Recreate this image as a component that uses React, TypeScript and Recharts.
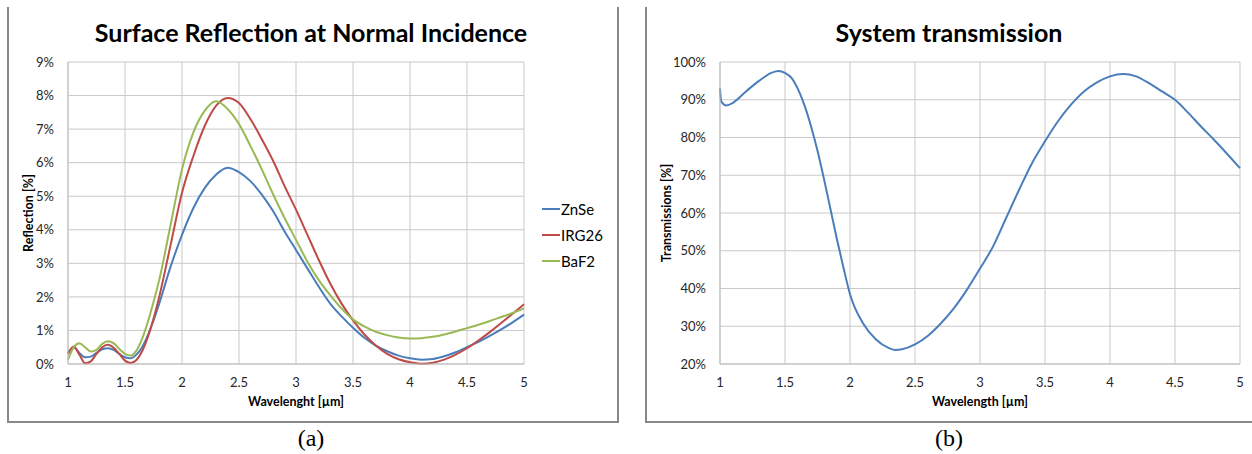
import { LineChart, Line, XAxis, YAxis, CartesianGrid } from 'recharts'

// reflection curves, wavelength in µm, reflection in %
const wavelengths = [
  1.0, 1.05, 1.1, 1.15, 1.2, 1.25, 1.3, 1.35, 1.4, 1.45, 1.5, 1.55, 1.6, 1.65, 1.7, 1.75, 1.8, 1.9, 2.0,
  2.1, 2.2, 2.3, 2.4, 2.5, 2.6, 2.7, 2.8, 2.9, 3.0, 3.1, 3.2, 3.3, 3.4, 3.5, 3.6, 3.7, 3.8, 3.9, 4.0,
  4.1, 4.2, 4.3, 4.4, 4.5, 4.6, 4.7, 4.8, 4.9, 5.0,
]
const znse = [
  0.33, 0.5, 0.33, 0.2, 0.22, 0.33, 0.44, 0.47, 0.42, 0.3, 0.2, 0.17, 0.28, 0.5, 0.85, 1.3, 1.8, 2.9, 3.85,
  4.65, 5.25, 5.65, 5.85, 5.72, 5.45, 5.05, 4.55, 3.95, 3.4, 2.85, 2.3, 1.8, 1.42, 1.08, 0.78, 0.55, 0.38, 0.25, 0.17,
  0.13, 0.15, 0.23, 0.35, 0.5, 0.66, 0.84, 1.03, 1.24, 1.47,
]
const irg26 = [
  0.3, 0.52, 0.28, 0.02, 0.08, 0.3, 0.5, 0.57, 0.48, 0.3, 0.1, 0.03, 0.12, 0.38, 0.8, 1.35, 2.0, 3.55, 5.1,
  6.2, 7.1, 7.7, 7.93, 7.78, 7.3, 6.7, 6.05, 5.3, 4.6, 3.85, 3.1, 2.4, 1.8, 1.3, 0.88, 0.55, 0.3, 0.14, 0.05,
  0.01, 0.04, 0.13, 0.28, 0.47, 0.7, 0.95, 1.22, 1.5, 1.78,
]
const baf2 = [
  0.13, 0.5, 0.62, 0.5, 0.37, 0.42, 0.6, 0.68, 0.62, 0.45, 0.3, 0.25, 0.4, 0.75, 1.25, 1.85, 2.5, 4.15, 5.8,
  6.9, 7.55, 7.83, 7.6, 7.15, 6.5, 5.8, 5.05, 4.35, 3.7, 3.05, 2.5, 2.05, 1.65, 1.33, 1.12, 0.96, 0.86, 0.79, 0.76,
  0.77, 0.81, 0.88, 0.97, 1.07, 1.17, 1.28, 1.4, 1.52, 1.66,
]

// system transmission, %
const transWavelengths = [
  1.0, 1.01, 1.05, 1.1, 1.2, 1.3, 1.4, 1.45, 1.5, 1.55, 1.6, 1.65, 1.7, 1.75, 1.8, 1.85, 1.9, 1.95, 2.0,
  2.1, 2.2, 2.3, 2.35, 2.4, 2.5, 2.6, 2.7, 2.8, 2.9, 3.0, 3.1, 3.2, 3.3, 3.4, 3.5, 3.6, 3.7, 3.8, 3.9, 4.0,
  4.1, 4.2, 4.3, 4.4, 4.5, 4.6, 4.7, 4.8, 4.9, 5.0,
]
const transmission = [
  93, 89.5, 88.5, 89.2, 92.2, 95, 97.2, 97.6, 97.1, 95.8, 92.8, 88.5, 83, 76.5, 69, 61, 53, 45.5, 38.5,
  30.8, 26.5, 24.2, 23.7, 23.9, 25.2, 27.5, 30.8, 34.8, 39.7, 45.3, 51.1, 58.6, 66.1, 73.2, 79, 84.3, 88.7, 92.2, 94.6, 96.2,
  96.8, 96.2, 94.4, 92.2, 90, 86.6, 82.9, 79.4, 75.7, 71.9,
]

const xTicks = [1, 1.5, 2, 2.5, 3, 3.5, 4, 4.5, 5]
const reflTicks = [0, 1, 2, 3, 4, 5, 6, 7, 8, 9]
const transTicks = [20, 30, 40, 50, 60, 70, 80, 90, 100]

const series = [
  { key: 'ZnSe', color: '#4a7ebb' },
  { key: 'IRG26', color: '#be4b48' },
  { key: 'BaF2', color: '#98b954' },
]

const reflData = wavelengths.map((w, i) => ({ w, ZnSe: znse[i], IRG26: irg26[i], BaF2: baf2[i] }))
const transData = transWavelengths.map((w, i) => ({ w, T: transmission[i] }))

const font = 'Lato, "Open Sans", sans-serif'
const tickStyle = { fontSize: 13, fill: '#262626', fontFamily: font }
const gridColor = '#c9c9c9'

const abs = (left: number, top: number, extra: React.CSSProperties = {}): React.CSSProperties => ({
  position: 'absolute',
  left,
  top,
  ...extra,
})

function Title({ text, cx }: { text: string; cx: number }) {
  return (
    <div
      style={abs(cx - 300, 16, {
        width: 600,
        textAlign: 'center',
        fontFamily: font,
        fontWeight: 700,
        fontSize: 25,
        color: '#000',
        lineHeight: '32px',
      })}
    >
      {text}
    </div>
  )
}

function AxisLabel({ text, cx, cy, rotate }: { text: string; cx: number; cy: number; rotate?: boolean }) {
  return (
    <div
      style={abs(cx - 100, cy - 8, {
        width: 200,
        textAlign: 'center',
        fontFamily: font,
        fontWeight: 700,
        fontSize: 12.5,
        lineHeight: '16px',
        color: '#000',
        transform: rotate ? 'rotate(-90deg)' : undefined,
      })}
    >
      {text}
    </div>
  )
}

export default function App() {
  return (
    <div style={abs(0, 0, { width: 1252, height: 454, background: '#fff', overflow: 'hidden' })}>
      {/* panel frames */}
      <div style={abs(7, 7, { width: 608, height: 414, borderLeft: '2px solid #888', borderRight: '2px solid #888', borderBottom: '2px solid #888' })} />
      <div style={abs(645, 7, { width: 620, height: 414, borderLeft: '2px solid #888', borderBottom: '2px solid #888' })} />

      <Title text="Surface Reflection at Normal Incidence" cx={311} />
      <Title text="System transmission" cx={949} />

      <div style={abs(7, 7)}>
        <LineChart width={610} height={415} data={reflData} margin={{ top: 55, right: 93, bottom: 28, left: 21 }}>
          <CartesianGrid stroke={gridColor} strokeWidth={1} />
          <XAxis
            dataKey="w"
            type="number"
            domain={[1, 5]}
            ticks={xTicks}
            tickLine={false}
            axisLine={{ stroke: '#bdbdbd' }}
            tick={tickStyle}
            height={30}
            tickMargin={8}
          />
          <YAxis
            type="number"
            domain={[0, 9]}
            ticks={reflTicks}
            tickFormatter={(v: number) => `${v}%`}
            tickLine={false}
            axisLine={{ stroke: '#bdbdbd' }}
            tick={tickStyle}
            width={40}
            tickMargin={8}
          />
          {series.map((s) => (
            <Line
              key={s.key}
              type="monotone"
              dataKey={s.key}
              stroke={s.color}
              strokeWidth={2}
              dot={false}
              isAnimationActive={false}
            />
          ))}
        </LineChart>
      </div>

      {/* legend */}
      {series.map((s, i) => (
        <div key={s.key} style={abs(542, 200 + i * 26, { display: 'flex', alignItems: 'center', height: 18 })}>
          <div style={{ width: 18, height: 2, background: s.color }} />
          <span style={{ fontFamily: font, fontSize: 15, color: '#000', marginLeft: 1 }}>{s.key}</span>
        </div>
      ))}

      <div style={abs(645, 7)}>
        <LineChart width={607} height={415} data={transData} margin={{ top: 55, right: 12, bottom: 28, left: 30 }}>
          <CartesianGrid stroke={gridColor} strokeWidth={1} />
          <XAxis
            dataKey="w"
            type="number"
            domain={[1, 5]}
            ticks={xTicks}
            tickLine={false}
            axisLine={{ stroke: '#bdbdbd' }}
            tick={tickStyle}
            height={30}
            tickMargin={8}
          />
          <YAxis
            type="number"
            domain={[20, 100]}
            ticks={transTicks}
            tickFormatter={(v: number) => `${v}%`}
            tickLine={false}
            axisLine={{ stroke: '#bdbdbd' }}
            tick={tickStyle}
            width={45}
            tickMargin={8}
          />
          <Line type="monotone" dataKey="T" stroke="#4a7ebb" strokeWidth={2} dot={false} isAnimationActive={false} />
        </LineChart>
      </div>

      <AxisLabel text="Wavelenght [µm]" cx={296} cy={402} />
      <AxisLabel text="Reflection [%]" cx={29} cy={213} rotate />
      <AxisLabel text="Wavelength [µm]" cx={980} cy={402} />
      <AxisLabel text="Transmissions [%]" cx={667} cy={213} rotate />

      <div style={abs(261, 424, { width: 100, textAlign: 'center', fontFamily: '"Liberation Serif", serif', fontSize: 24, lineHeight: '28px' })}>(a)</div>
      <div style={abs(899, 424, { width: 100, textAlign: 'center', fontFamily: '"Liberation Serif", serif', fontSize: 24, lineHeight: '28px' })}>(b)</div>
    </div>
  )
}
